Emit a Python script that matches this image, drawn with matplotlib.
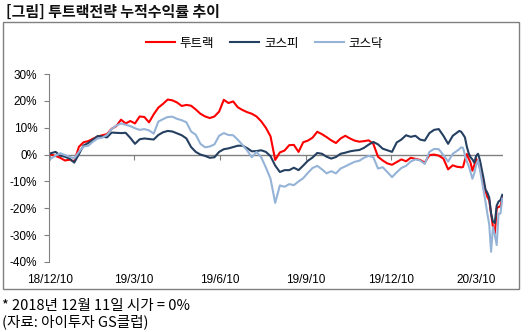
import matplotlib.pyplot as plt
import pandas as pd
from matplotlib.patches import Rectangle
from matplotlib.ticker import FuncFormatter

plt.rcParams["font.family"] = ["Noto Sans CJK KR", "DejaVu Sans"]
plt.rcParams["axes.unicode_minus"] = False

# sample dates: every 5 days until mid-Feb 2020, then every 2 days through the March crash
dates = pd.date_range("2018-12-11", periods=88, freq="5D").append(
    pd.date_range("2020-02-21", periods=24, freq="2D"))

# cumulative return (%) vs. 2018-12-11 open
two_track = [
    0.0, -0.5, -1.2, -2.2, -1.9, -2.6, 2.9, 4.6, 5.0, 5.9,
    6.7, 7.2, 7.6, 9.6, 10.6, 13.0, 11.6, 12.5, 11.6, 14.2,
    14.0, 12.0, 15.0, 17.5, 18.9, 20.5, 20.2, 19.4, 18.1, 18.5,
    18.2, 16.8, 15.2, 14.2, 13.6, 14.2, 16.0, 20.4, 19.2, 19.8,
    17.6, 16.6, 15.8, 15.2, 14.2, 12.4, 10.0, 6.8, -2.0, 0.8,
    1.5, 3.5, 3.6, 1.0, 4.6, 5.2, 6.3, 8.5, 7.6, 6.5,
    5.3, 4.3, 6.0, 7.0, 6.0, 5.2, 4.8, 5.0, 5.3, 4.0,
    -0.8, -2.2, -3.3, -3.8, -2.8, -1.8, -2.5, -1.2, -1.6, -2.0,
    -3.0, -0.2, 0.0, -0.4, -1.5, -5.5, -4.0, -4.6,
    -4.6, -4.8, -4.6, -2.0, 0.2, -1.5, -3.0, -6.0, -4.0, -1.6,
    -3.0, -4.7, -7.5, -10.5, -13.5, -15.8, -17.0, -22.0, -27.0, -29.4,
    -20.0, -19.5, -19.3, -16.0,
]
kospi = [
    0.5, 1.0, -0.4, -0.8, -1.5, -3.0, 0.2, 3.4, 4.3, 5.5,
    6.9, 6.7, 6.4, 8.2, 8.1, 8.0, 8.1, 6.2, 4.0, 5.7,
    6.0, 5.8, 5.6, 7.3, 8.3, 8.8, 8.6, 7.9, 7.2, 6.0,
    2.8, 1.0, 0.0, -0.5, -1.2, -1.0, 1.0, 2.0, 2.3, 2.8,
    3.3, 3.3, 2.4, 1.2, 1.3, 1.6, 1.0, -0.6, -4.1, -6.5,
    -5.8, -5.8, -4.9, -5.8, -4.1, -2.3, -1.1, 0.6, 0.3, -0.8,
    -1.5, -0.9, 0.3, 0.7, 1.2, 1.5, 1.7, 2.5, 3.7, 4.7,
    3.8, 2.2, 1.6, 1.0, 4.5, 5.6, 7.2, 6.6, 7.0, 5.6,
    5.2, 8.0, 9.2, 9.5, 7.0, 4.0, 7.0, 8.3,
    8.8, 8.5, 7.5, 6.4, 3.0, 0.5, -1.0, -1.8, -3.0, -0.5,
    0.3, -2.0, -5.5, -9.0, -13.0, -14.2, -16.0, -22.0, -25.0, -25.5,
    -19.0, -17.5, -17.0, -15.0,
]
kosdaq = [
    -1.5, -0.4, 0.5, -0.2, -0.8, -1.4, 1.0, 3.0, 3.3, 4.8,
    6.0, 6.3, 7.3, 9.5, 10.8, 11.6, 11.1, 10.6, 9.8, 9.2,
    9.5, 9.0, 7.8, 12.3, 13.2, 14.0, 14.1, 13.3, 12.8, 12.0,
    8.6, 7.4, 4.0, 2.7, 3.0, 3.8, 7.0, 8.0, 7.3, 7.2,
    5.5, 3.6, 1.5, -1.0, 1.0, -1.0, -4.8, -9.0, -18.0, -11.5,
    -12.0, -11.0, -11.4, -10.0, -8.8, -6.8, -5.0, -4.2, -5.5, -7.0,
    -6.2, -7.0, -5.2, -4.4, -3.5, -2.7, -2.3, -1.2, -0.5, -1.0,
    -5.2, -4.7, -6.5, -8.4, -6.6, -5.0, -4.2, -2.6, -1.8, -2.2,
    -3.5, 1.0, 2.1, 2.0, -0.2, -2.6, 0.3, 1.5,
    2.0, 2.7, 2.5, -0.2, -2.5, -4.2, -6.5, -9.0, -7.0, -4.0,
    -2.2, -5.5, -9.5, -13.5, -17.5, -22.0, -26.0, -36.2, -27.0, -30.0,
    -33.7, -22.0, -22.0, -16.4,
]

series_names = ["투트랙", "코스피", "코스닥"]
series_colors = ["#ff0000", "#243f60", "#95b3d7"]

tick_dates = pd.to_datetime(["2018-12-10", "2019-03-10", "2019-06-10",
                             "2019-09-10", "2019-12-10", "2020-03-10"])
tick_labels = ["18/12/10", "19/3/10", "19/6/10", "19/9/10", "19/12/10", "20/3/10"]

GRAY = "#808080"

fig = plt.figure(figsize=(5.3, 3.32), dpi=100)
ax = fig.add_axes([0.0925, 0.211, 0.857, 0.566])

ax.axhline(0, color=GRAY, lw=1, zorder=1)
for vals, name, color in zip([two_track, kospi, kosdaq], series_names, series_colors):
    ax.plot(dates, vals, color=color, lw=1.5, label=name, zorder=2)

ax.set_xlim(pd.Timestamp("2018-12-09"), pd.Timestamp("2020-04-08"))
ax.set_ylim(-40, 30)
ax.set_yticks(range(-40, 31, 10))
ax.yaxis.set_major_formatter(FuncFormatter(lambda v, _: f"{v:.0f}%"))

for side in ["top", "right", "bottom"]:
    ax.spines[side].set_visible(False)
ax.spines["left"].set_color(GRAY)
ax.tick_params(axis="y", direction="out", length=3.5, color=GRAY, pad=5, labelsize=8.5)
ax.set_xticks(tick_dates, labels=tick_labels)
ax.tick_params(axis="x", length=0, pad=9, labelsize=8.5)
for lbl in ax.get_xticklabels() + ax.get_yticklabels():
    lbl.set_fontfamily("Liberation Sans")

# small tick marks hanging off the zero line
zero_axis = ax.secondary_xaxis(40 / 70)
zero_axis.spines[:].set_visible(False)
zero_axis.set_xticks(tick_dates)
zero_axis.tick_params(axis="x", direction="in", length=3.5, color=GRAY,
                      labeltop=False, labelbottom=False)

fig.legend(loc="center", bbox_to_anchor=(0.499, 0.870), ncol=3, frameon=False,
           fontsize=9, handlelength=2.3, handletextpad=0.4, columnspacing=1.3)

fig.add_artist(Rectangle((0.0057, 0.1295), 0.9736, 0.804, transform=fig.transFigure,
                         fill=False, edgecolor=GRAY, lw=1))

fig.text(0.011, 0.965, "[그림] 투트랙전략 누적수익률 추이", fontsize=10.8,
         fontweight="bold", va="center", color="#111111")
fig.text(0.004, 0.078, "* 2018년 12월 11일 시가 = 0%", fontsize=10.5, va="center")
fig.text(0.004, 0.030, "(자료: 아이투자 GS클럽)", fontsize=10.5, va="center")

fig.savefig("out.png", dpi=100)
